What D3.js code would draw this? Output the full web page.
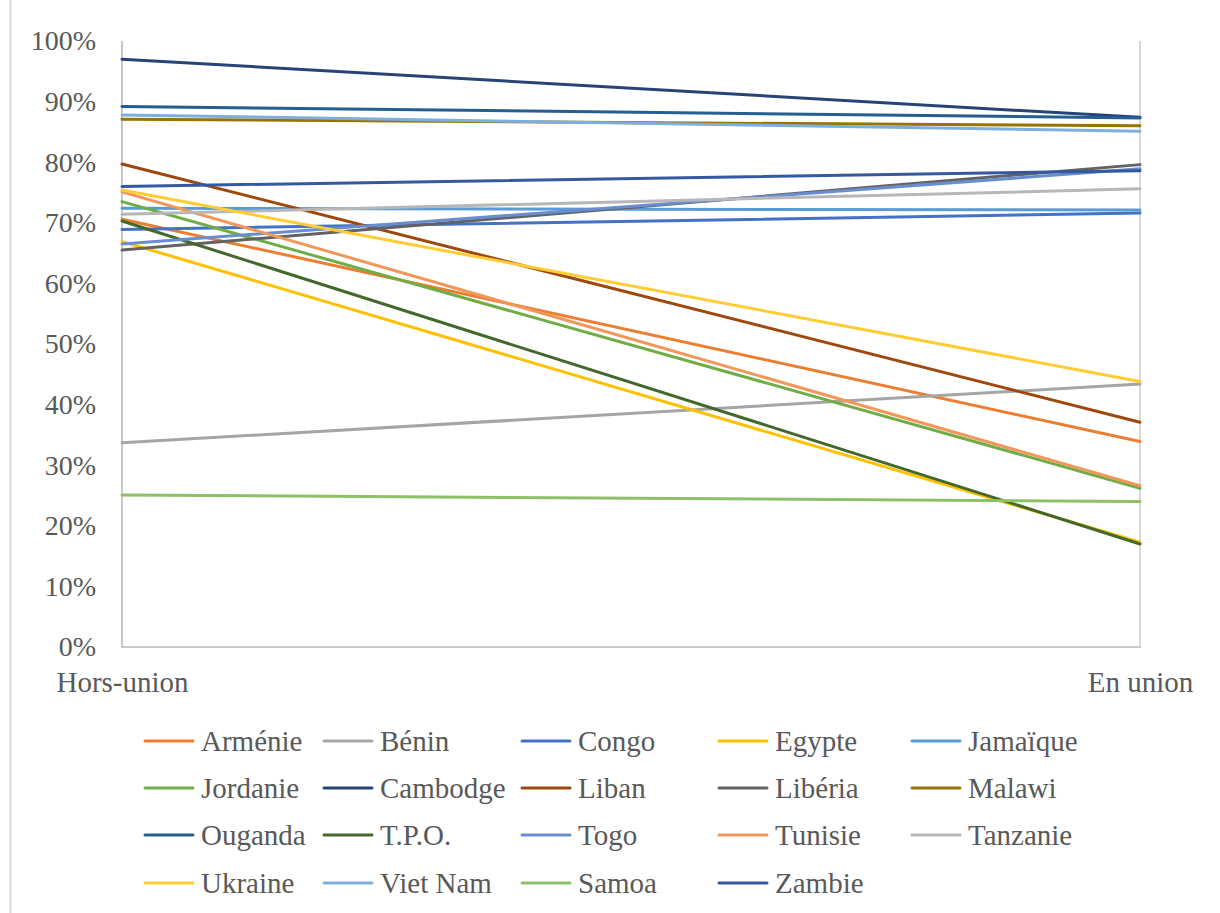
<!DOCTYPE html>
<html>
<head>
<meta charset="utf-8">
<script src="https://cdn.jsdelivr.net/npm/d3@7"></script>
<style>
  html, body { margin: 0; padding: 0; background: #fff; }
  svg { display: block; }
</style>
</head>
<body>
<svg id="chart" width="1220" height="913"></svg>
<script>
const categories = ["Hors-union", "En union"];
const seriesNames = ["Arménie", "Bénin", "Congo", "Egypte", "Jamaïque", "Jordanie", "Cambodge", "Liban", "Libéria", "Malawi", "Ouganda", "T.P.O.", "Togo", "Tunisie", "Tanzanie", "Ukraine", "Viet Nam", "Samoa", "Zambie"];
const horsUnion = [0.706, 0.337, 0.689, 0.669, 0.724, 0.735, 0.970, 0.797, 0.655, 0.871, 0.892, 0.703, 0.665, 0.751, 0.714, 0.754, 0.878, 0.251, 0.760];
const enUnion   = [0.339, 0.434, 0.716, 0.173, 0.721, 0.262, 0.874, 0.371, 0.796, 0.860, 0.873, 0.170, 0.789, 0.266, 0.756, 0.438, 0.851, 0.240, 0.786];
const seriesColors = ["#ED7D31", "#A5A5A5", "#4472C4", "#FFC000", "#5B9BD5", "#70AD47", "#264478", "#9E480E", "#636363", "#997300", "#255E91", "#43682B", "#698ED0", "#F1975A", "#B7B7B7", "#FFCD33", "#7CAFDD", "#8CC168", "#335AA1"];
const yTicks = [0, 0.1, 0.2, 0.3, 0.4, 0.5, 0.6, 0.7, 0.8, 0.9, 1.0];

const svg = d3.select("#chart");
const plot = { left: 122, right: 1140, top: 41, bottom: 647 };
const textColor = "#595959";
const fontFamily = "'Liberation Serif', 'Times New Roman', serif";

// chart frame edge on the left
svg.append("line").attr("x1", 10.5).attr("x2", 10.5).attr("y1", 0).attr("y2", 913)
  .attr("stroke", "#d9d9d9").attr("stroke-width", 2);

const x = d3.scalePoint().domain(categories).range([plot.left, plot.right]);
const y = d3.scaleLinear().domain([0, 1]).range([plot.bottom, plot.top]);

// axis lines
svg.append("line").attr("x1", plot.left).attr("x2", plot.left).attr("y1", plot.top).attr("y2", plot.bottom)
  .attr("stroke", "#c8c8c8").attr("stroke-width", 2);
svg.append("line").attr("x1", plot.right).attr("x2", plot.right).attr("y1", plot.top).attr("y2", plot.bottom)
  .attr("stroke", "#d9d9d9").attr("stroke-width", 2);
svg.append("line").attr("x1", plot.left - 1).attr("x2", plot.right + 1).attr("y1", plot.bottom).attr("y2", plot.bottom)
  .attr("stroke", "#c8c8c8").attr("stroke-width", 2);

// Y axis labels
const yAxis = d3.axisLeft(y).tickValues(yTicks).tickFormat(d3.format(".0%")).tickSize(0).tickPadding(26);
const gy = svg.append("g").attr("transform", `translate(${plot.left},0)`).call(yAxis);
gy.select(".domain").remove();
gy.selectAll("text").attr("fill", textColor).style("font-family", fontFamily).style("font-size", "28px");

// X axis labels
const xAxis = d3.axisBottom(x).tickSize(0).tickPadding(24);
const gx = svg.append("g").attr("transform", `translate(0,${plot.bottom})`).call(xAxis);
gx.select(".domain").remove();
gx.selectAll("text").attr("fill", textColor).style("font-family", fontFamily).style("font-size", "29px");

// series lines
const series = seriesNames.map((name, i) => ({
  name, color: seriesColors[i],
  values: [{ c: categories[0], v: horsUnion[i] }, { c: categories[1], v: enUnion[i] }]
}));
const line = d3.line().x(d => x(d.c)).y(d => y(d.v));
svg.append("g").selectAll("path").data(series).join("path")
  .attr("d", d => line(d.values))
  .attr("fill", "none")
  .attr("stroke", d => d.color)
  .attr("stroke-width", 3)
  .attr("stroke-linecap", "round");

// legend
const legendCols = [145, 324, 522, 719, 912];
const legendRows = [741, 788, 835, 883];
const legend = svg.append("g");
series.forEach((s, i) => {
  const col = i % 5, row = Math.floor(i / 5);
  const gx0 = legendCols[col], gy0 = legendRows[row];
  const g = legend.append("g").attr("transform", `translate(${gx0},${gy0})`);
  g.append("line").attr("x1", 0).attr("x2", 48).attr("y1", 0).attr("y2", 0)
    .attr("stroke", s.color).attr("stroke-width", 3).attr("stroke-linecap", "round");
  g.append("text").attr("x", 56).attr("y", 0).attr("dy", "0.35em")
    .attr("fill", textColor).style("font-family", fontFamily).style("font-size", "29px")
    .text(s.name);
});
</script>
</body>
</html>
